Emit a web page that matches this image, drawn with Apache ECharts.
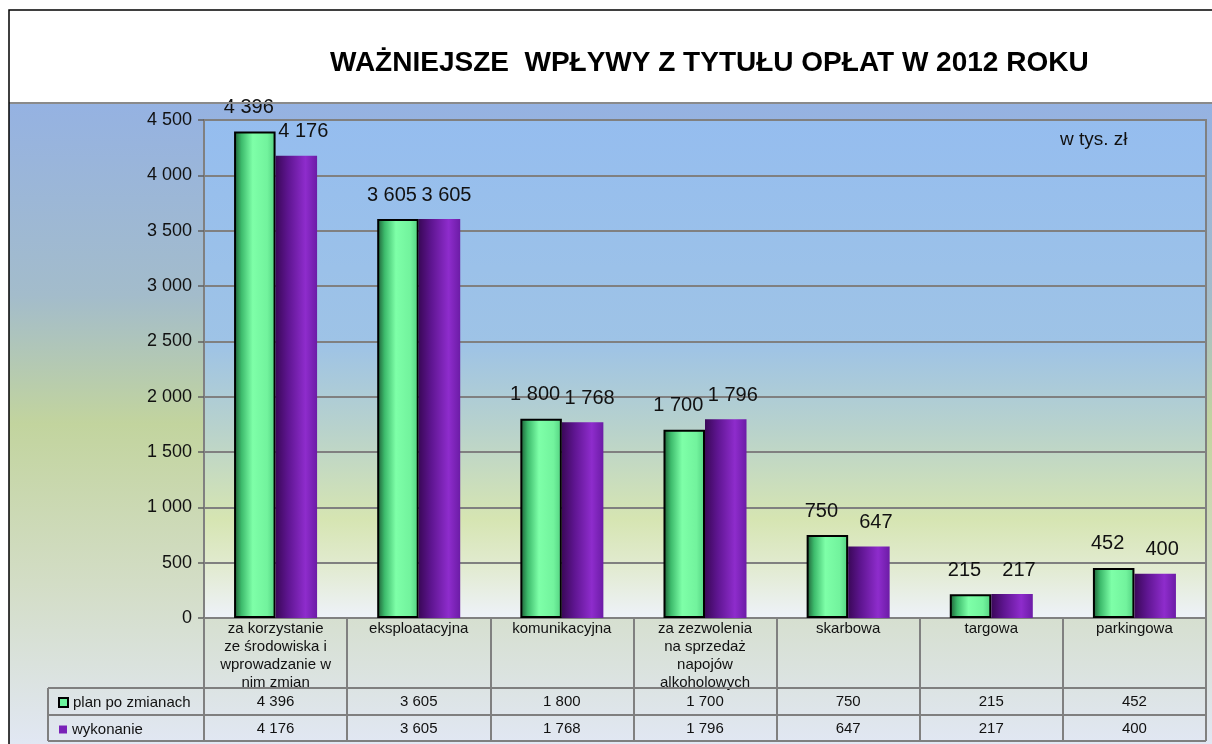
<!DOCTYPE html>
<html>
<head>
<meta charset="utf-8">
<script src="https://cdn.jsdelivr.net/npm/echarts@6/dist/echarts.min.js"></script>
<style>
  html, body { margin: 0; padding: 0; background: #fff; }
  #wykres { width: 1212px; height: 744px; }
</style>
</head>
<body>
<div id="wykres"></div>
<script>
// dane z wykresu (w tys. zł)
var kategorie = [
    'za korzystanie\nze środowiska i\nwprowadzanie w\nnim zmian',
    'eksploatacyjna',
    'komunikacyjna',
    'za zezwolenia\nna sprzedaż\nnapojów\nalkoholowych',
    'skarbowa',
    'targowa',
    'parkingowa'
];
var planPoZmianach = [4396, 3605, 1800, 1700, 750, 215, 452];
var wykonanie = [4176, 3605, 1768, 1796, 647, 217, 400];
var nazwySerii = ['plan po zmianach', 'wykonanie'];
var osY = { min: 0, max: 4500, interval: 500 };

//************************* public fun **************************//
function fmt(v) {
    //separator tysięcy: spacja
    return String(v).replace(/\B(?=(\d{3})+(?!\d))/g, ' ');
}

var FONT = '"Liberation Sans", Arial, sans-serif';
// układ
var gLeft = 204, gRight = 6, gTop = 120, gBottom = 126;
var osZero = 744 - gBottom;         // y osi 0
var wiersz1 = osZero + 70, wiersz2 = wiersz1 + 27, wiersz3 = wiersz2 + 26;
var xPrawy = 1212 - gRight;
var tabelaLewy = 48;

var myChart = echarts.init(document.getElementById('wykres'));

var zielony = new echarts.graphic.LinearGradient(0, 0, 1, 0, [
    { offset: 0, color: '#1d5a34' },
    { offset: 0.18, color: '#3dbb6c' },
    { offset: 0.45, color: '#7effa8' },
    { offset: 0.8, color: '#72f39d' },
    { offset: 1, color: '#52cf80' }
]);
var fiolet = new echarts.graphic.LinearGradient(0, 0, 1, 0, [
    { offset: 0, color: '#3a0858' },
    { offset: 0.3, color: '#5e1590' },
    { offset: 0.72, color: '#8e2ccc' },
    { offset: 1, color: '#6c1ca6' }
]);

function liniaTabeli(x1, y1, x2, y2) {
    return {
        type: 'line', z: 5, silent: true,
        shape: { x1: x1, y1: y1, x2: x2, y2: y2 },
        style: { stroke: '#7f7f7f', lineWidth: 2 }
    };
}

var option = {
    animation: false,
    textStyle: { fontFamily: FONT },
    graphic: [
        // tło obszaru wykresu
        {
            type: 'rect', z: -10, silent: true,
            shape: { x: 9, y: 103, width: 1203, height: 641 },
            style: {
                fill: new echarts.graphic.LinearGradient(0, 0, 0, 1, [
                    { offset: 0, color: '#95b2e2' },
                    { offset: 0.3, color: '#a3bccb' },
                    { offset: 0.5, color: '#c2d49e' },
                    { offset: 0.75, color: '#d3ddc6' },
                    { offset: 1, color: '#e1e7f3' }
                ])
            }
        },
        // linia pod tytułem
        {
            type: 'line', z: 5, silent: true,
            shape: { x1: 9, y1: 103, x2: 1212, y2: 103 },
            style: { stroke: '#8a8a8a', lineWidth: 2 }
        },
        // ramka
        {
            type: 'rect', z: 6, silent: true,
            shape: { x: 9, y: 10, width: 1210, height: 740 },
            style: { fill: null, stroke: '#000', lineWidth: 1.5 }
        },
        {
            type: 'text', left: 330, top: 49,
            style: {
                text: 'WAŻNIEJSZE  WPŁYWY Z TYTUŁU OPŁAT W 2012 ROKU',
                font: 'bold 28px ' + FONT, fill: '#000'
            }
        },
        {
            type: 'text', left: 1060, top: 130, z: 10,
            style: { text: 'w tys. zł', font: '19px ' + FONT, fill: '#111' }
        },
        // linie tabeli danych
        liniaTabeli(tabelaLewy, wiersz1, xPrawy, wiersz1),
        liniaTabeli(tabelaLewy, wiersz2, xPrawy, wiersz2),
        liniaTabeli(tabelaLewy, wiersz3, xPrawy, wiersz3),
        liniaTabeli(tabelaLewy, wiersz1, tabelaLewy, wiersz3)
    ],
    legend: [
        {
            left: 53, top: wiersz1 + 2, itemWidth: 9, itemHeight: 9, itemGap: 5,
            textStyle: { fontSize: 15, color: '#111', fontFamily: FONT },
            data: [{ name: nazwySerii[0], icon: 'rect',
                itemStyle: { color: '#6cf59d', borderColor: '#000', borderWidth: 2 } }]
        },
        {
            left: 54, top: wiersz2 + 2, itemWidth: 8, itemHeight: 8, itemGap: 6,
            textStyle: { fontSize: 15, color: '#111', fontFamily: FONT },
            data: [{ name: nazwySerii[1], icon: 'rect',
                itemStyle: { color: '#7a22b8', borderWidth: 0 } }]
        }
    ],
    grid: {
        left: gLeft, right: gRight, top: gTop, bottom: gBottom,
        show: true,
        borderColor: '#808080', borderWidth: 2,
        backgroundColor: new echarts.graphic.LinearGradient(0, 0, 0, 1, [
            { offset: 0, color: '#95bdef' },
            { offset: 0.45, color: '#9ec3e6' },
            { offset: 0.62, color: '#b8d2cc' },
            { offset: 0.8, color: '#d6e5b2' },
            { offset: 0.9, color: '#e2ebd2' },
            { offset: 1, color: '#eef2fa' }
        ])
    },
    xAxis: [
        {
            type: 'category',
            data: kategorie,
            axisLine: { lineStyle: { color: '#808080', width: 2 } },
            axisTick: { show: true, interval: 0, length: wiersz3 - osZero, lineStyle: { color: '#808080', width: 2 } },
            axisLabel: { interval: 0, margin: 2, fontSize: 15, lineHeight: 18, color: '#111' }
        },
        {
            type: 'category', position: 'bottom', offset: wiersz1 - osZero,
            data: planPoZmianach.map(fmt),
            axisLine: { show: false }, axisTick: { show: false },
            axisLabel: { interval: 0, margin: 6, fontSize: 15, color: '#111' }
        },
        {
            type: 'category', position: 'bottom', offset: wiersz2 - osZero,
            data: wykonanie.map(fmt),
            axisLine: { show: false }, axisTick: { show: false },
            axisLabel: { interval: 0, margin: 6, fontSize: 15, color: '#111' }
        }
    ],
    yAxis: {
        type: 'value',
        min: osY.min, max: osY.max, interval: osY.interval,
        axisLine: { show: true, lineStyle: { color: '#808080', width: 2 } },
        axisTick: { show: true, length: 6, lineStyle: { color: '#606060', width: 1.5 } },
        axisLabel: { fontSize: 18, color: '#111', margin: 12, formatter: fmt },
        splitLine: { lineStyle: { color: '#808080', width: 2 } }
    },
    series: [
        {
            name: nazwySerii[0], type: 'bar', xAxisIndex: 0,
            data: planPoZmianach,
            barGap: '0%', barCategoryGap: '42%',
            itemStyle: { color: zielony, borderColor: '#000', borderWidth: 2 },
            label: { show: true, position: 'top', distance: 14, offset: [-6, 0], fontSize: 20, color: '#111', formatter: function (p) { return fmt(p.value); } }
        },
        {
            name: nazwySerii[1], type: 'bar', xAxisIndex: 0,
            data: wykonanie,
            barGap: '0%', barCategoryGap: '42%',
            itemStyle: { color: fiolet },
            label: { show: true, position: 'top', distance: 14, offset: [7, 0], fontSize: 20, color: '#111', formatter: function (p) { return fmt(p.value); } }
        }
    ]
};

myChart.setOption(option);
</script>
</body>
</html>
